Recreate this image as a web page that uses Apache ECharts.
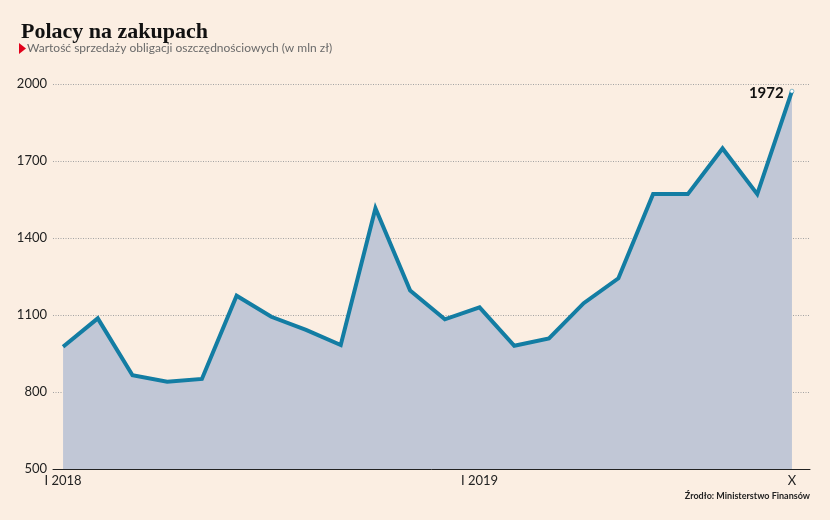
<!DOCTYPE html>
<html>
<head>
<meta charset="utf-8">
<script src="https://cdn.jsdelivr.net/npm/echarts@6/dist/echarts.min.js"></script>
<style>
html,body{margin:0;padding:0;background:#fbeee2;}
#c{width:830px;height:520px;}
</style>
</head>
<body>
<div id="c"></div>
<script>
var months = ['I 2018','II','III','IV','V','VI','VII','VIII','IX','X','XI','XII',
              'I 2019','II','III','IV','V','VI','VII','VIII','IX','X'];
var sales = [976, 1087, 865, 840, 851, 1175, 1093, 1042, 983, 1516, 1195,
             1083, 1130, 980, 1009, 1146, 1243, 1571, 1571, 1749, 1571, 1972];
var xTickIdx = [0, 12, 21];
var xTickLabels = ['I 2018', 'I 2019', 'X'];
var yTicks = [500, 800, 1100, 1400, 1700, 2000];

var chart = echarts.init(document.getElementById('c'));
var last = sales.length - 1;
var seriesData = sales.map(function (v, i) {
  var d = { value: [i, v] };
  if (i === last) {
    d.symbol = 'circle';
    d.symbolSize = 4;
    d.itemStyle = { color: '#ffffff', borderColor: '#137da3', borderWidth: 0.5 };
    d.label = {
      show: true, position: 'left', distance: 6, offset: [0, 2],
      formatter: String(v),
      fontFamily: 'Lato', fontWeight: 'bold', fontSize: 15, color: '#111'
    };
  }
  return d;
});

chart.setOption({
  backgroundColor: '#fbeee2',
  animation: false,
  title: {
    text: 'Polacy na zakupach',
    left: 16, top: 16,
    textStyle: { fontFamily: 'Liberation Serif', fontWeight: 'bold', fontSize: 22, color: '#111' }
  },
  graphic: [
    { type: 'polygon', shape: { points: [[19, 43], [26, 48.5], [19, 54]] }, style: { fill: '#e2001a' } },
    { type: 'text', left: 27, top: 42, style: { text: 'Wartość sprzedaży obligacji oszczędnościowych (w mln zł)', font: '12px Lato', fill: '#6b6b6b' } },
    { type: 'text', right: 20, top: 492, style: { text: 'Źrodło: Ministerstwo Finansów', font: 'bold 9px Lato', fill: '#222', textAlign: 'right' } }
  ],
  grid: { left: 53, right: 20, top: 84, bottom: 51 },
  xAxis: {
    type: 'value',
    min: -0.29, max: 21.52,
    axisLine: { show: true, lineStyle: { color: '#222', width: 1 } },
    axisTick: { show: false },
    splitLine: { show: false },
    axisLabel: {
      customValues: xTickIdx,
      margin: 5,
      fontFamily: 'Lato', fontSize: 13, color: '#222',
      formatter: function (v) {
        var k = xTickIdx.indexOf(Math.round(v));
        return k >= 0 ? xTickLabels[k] : '';
      }
    }
  },
  yAxis: {
    type: 'value',
    min: yTicks[0], max: yTicks[yTicks.length - 1], interval: 300,
    axisLine: { show: false },
    axisTick: { show: false },
    splitLine: { show: true, lineStyle: { color: '#a3a3a3', type: [1, 1.5], width: 1 } },
    axisLabel: {
      margin: 6,
      fontFamily: 'Lato', fontSize: 13, color: '#222',
      verticalAlign: 'middle', padding: [0, 0, 7, 0],
      formatter: function (v) { return String(v); }
    }
  },
  series: [{
    type: 'line',
    data: seriesData,
    symbol: 'none',
    showSymbol: true,
    lineStyle: { color: '#137da3', width: 4, join: 'miter' },
    areaStyle: { color: '#c1c7d6', opacity: 1 },
    z: 3
  }]
});
</script>
</body>
</html>
